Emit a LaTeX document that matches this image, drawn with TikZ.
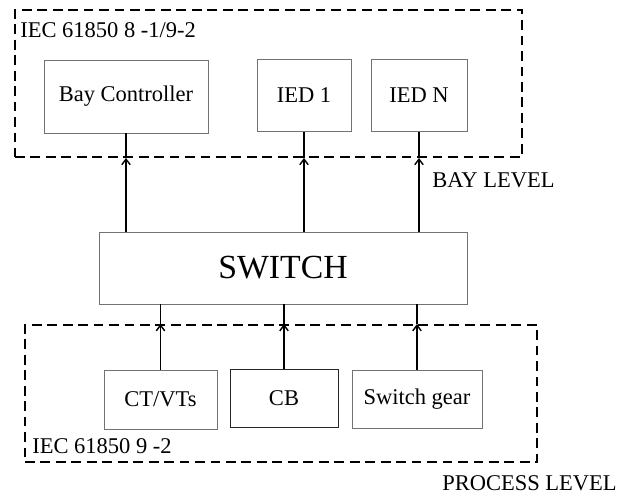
\documentclass[tikz,border=0pt]{standalone}
\usepackage{fontspec}
\setmainfont{Liberation Serif}
\usetikzlibrary{arrows.meta}

\tikzset{
  unit/.style={draw=black!55, line width=0.6pt, align=center,
    font=\fontsize{16}{19}\selectfont, inner sep=2pt},
  levelbox/.style={draw, dashed, line width=1.3pt, dash pattern=on 7pt off 4pt},
  link/.style={line width=1pt},
  tip/.style={link, -{Straight Barb[length=4pt,width=6pt]}},
  tag/.style={anchor=base west, inner sep=0pt, font=\fontsize{16}{19}\selectfont}
}

\begin{document}
\begin{tikzpicture}[x=0.025cm, y=-0.025cm]

    \useasboundingbox (0,0) rectangle (632,495);

    % --- Level frames ---
    \node[levelbox, minimum width=12.675cm, minimum height=3.675cm] (bayframe) at (268.5,83.5) {};
    \node[levelbox, minimum width=12.8cm, minimum height=3.425cm] (procframe) at (281,393.5) {};

    % --- Bay level devices ---
    \node[unit, minimum width=4.1cm, minimum height=1.825cm] (bayctrl) at (126,96.5) {Bay Controller};
    \node[unit, minimum width=2.35cm, minimum height=1.78cm] (iedone) at (304,95.5) {IED 1};
    \node[unit, minimum width=2.4cm, minimum height=1.78cm] (iedn) at (419,95.5) {IED N};

    % --- Switch ---
    \node[unit, minimum width=9.2cm, minimum height=1.8cm,
          font=\fontsize{24}{28}\selectfont] (switch) at (283,268) {SWITCH};

    % --- Process level devices ---
    \node[unit, minimum width=2.825cm, minimum height=1.475cm] (ctvt) at (160.5,399.5) {CT/VTs};
    \node[unit, draw=black!85, minimum width=2.7cm, minimum height=1.43cm] (cb) at (284,398.5) {CB};
    \node[unit, minimum width=3.25cm, minimum height=1.45cm] (gear) at (417,399) {Switch gear};

    % --- Links switch -> bay devices (tip on the frame line) ---
    \foreach \dev in {bayctrl, iedone, iedn} {
        \draw[tip] (\dev.south |- switch.north) -- (\dev.south |- bayframe.south);
        \draw[link] (\dev.south |- bayframe.south) -- (\dev.south);
    }

    % --- Links process devices -> switch ---
    \foreach \dev in {ctvt, cb, gear} {
        \draw[tip] (\dev.north) -- (\dev.north |- procframe.north);
        \draw[link] (\dev.north |- procframe.north) -- (\dev.north |- switch.south);
    }

    % --- Labels ---
    \node[tag] (bayiec) at (20,37) {IEC 61850 8 -1/9-2};
    \node[tag] (baylbl) at (432,187) {BAY LEVEL};
    \node[tag] (prociec) at (32,453) {IEC 61850 9 -2};
    \node[tag] (proclbl) at (442,490) {PROCESS LEVEL};

\end{tikzpicture}
\end{document}
